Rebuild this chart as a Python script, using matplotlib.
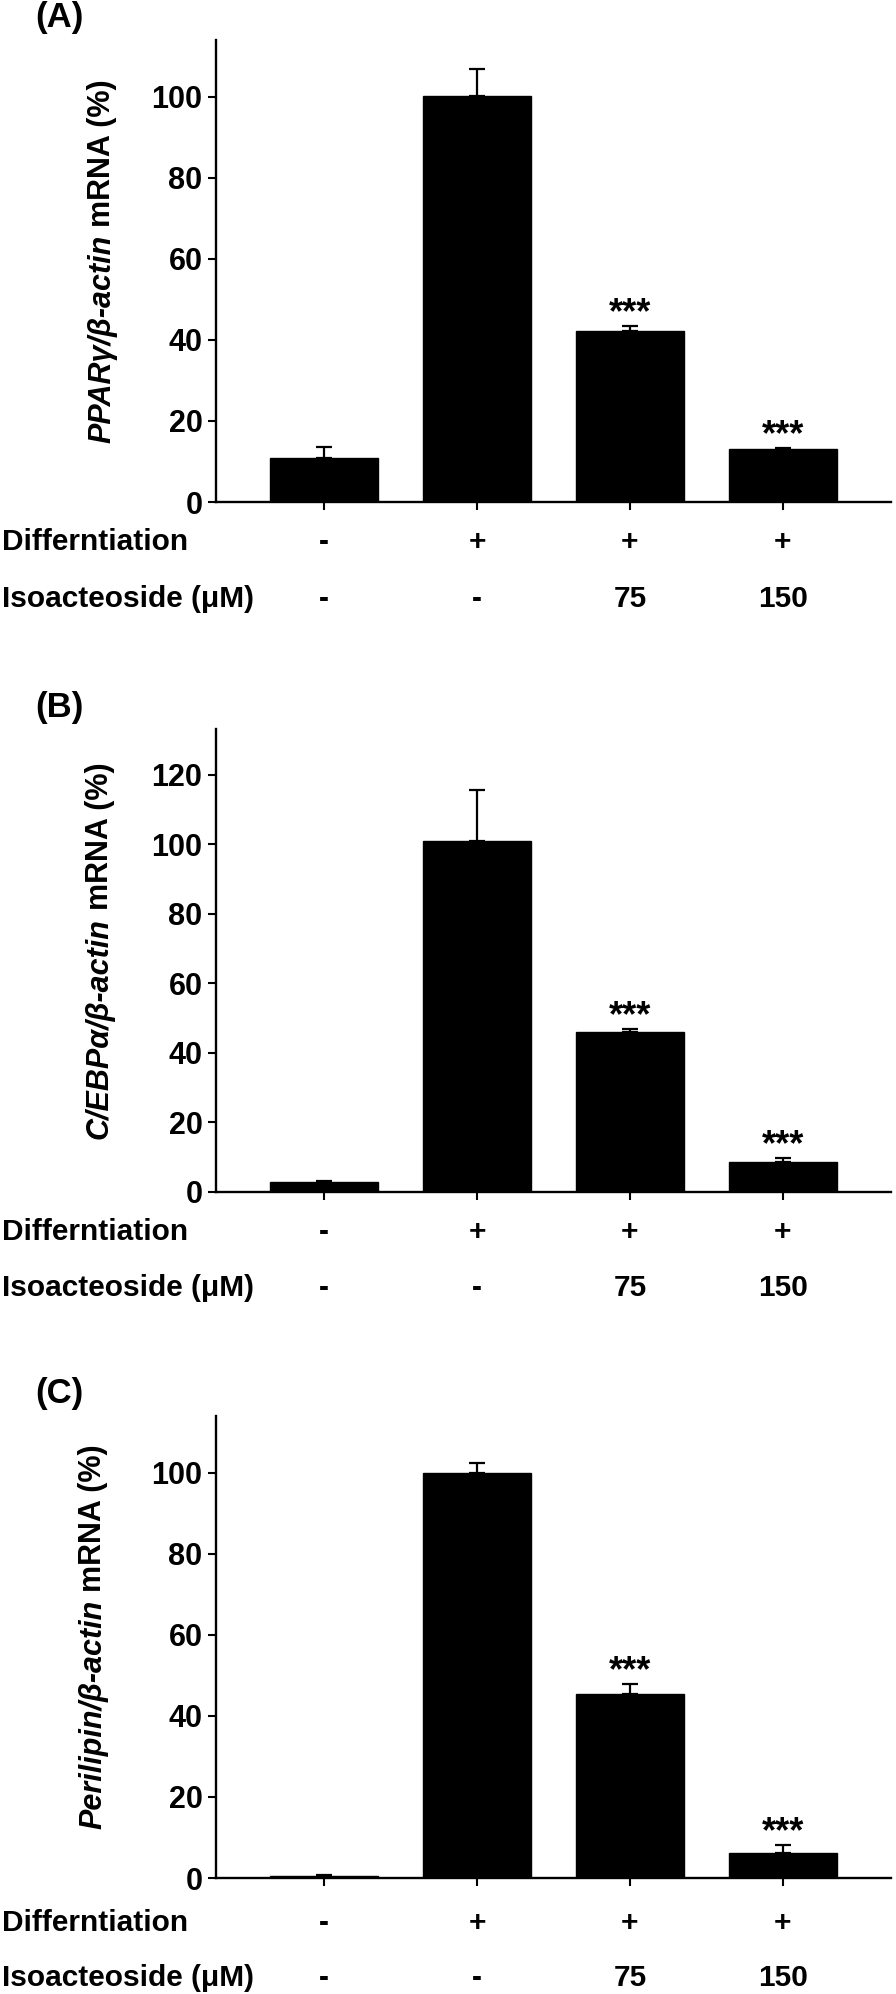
import numpy as np
import matplotlib.pyplot as plt

plt.rcParams['font.family'] = ['Liberation Sans', 'DejaVu Sans']
plt.rcParams['font.weight'] = 'bold'

# ---- data ----
differentiation = ['-', '+', '+', '+']
isoacteoside = ['-', '-', '75', '150']
row_names = ['Differntiation', 'Isoacteoside (\u03bcM)']

ppar_mean = [10.9, 100.2, 42.3, 13.1]
ppar_err = [2.6, 6.6, 1.1, 0.3]
cebpa_mean = [2.7, 101.0, 46.0, 8.5]
cebpa_err = [0.4, 14.5, 0.7, 1.1]
peri_mean = [0.5, 100.0, 45.4, 6.2]
peri_err = [0.2, 2.3, 2.4, 1.9]

sig = ['', '', '***', '***']
panel_tags = ['(A)', '(B)', '(C)']
gene_names = ['PPAR\u03b3/\u03b2-actin', 'C/EBP\u03b1/\u03b2-actin', 'Perilipin/\u03b2-actin']
y_max = [114, 133, 114]
y_tick_max = [100, 120, 100]

means = [ppar_mean, cebpa_mean, peri_mean]
errs = [ppar_err, cebpa_err, peri_err]

# ---- layout (pixels, figure is 896 x 1994 at dpi 100) ----
W, H = 896, 1994
ax_left, ax_right = 216, 891
ax_bottoms = [502, 1191.5, 1878]
ax_h = 462
row_offsets = [(48, 105), (48.5, 104.5), (53, 108)]
ylabel_x = [102, 100, 93]

fig = plt.figure(figsize=(W / 100, H / 100), dpi=100)
x = np.arange(len(differentiation))
axes = []

for k in range(3):
    b = ax_bottoms[k]
    ax = fig.add_axes([ax_left / W, 1 - b / H, (ax_right - ax_left) / W, ax_h / H])
    axes.append(ax)

    ax.bar(x, means[k], width=0.7, color='black', edgecolor='black', zorder=2)
    ax.errorbar(x, means[k], yerr=[np.zeros(4), errs[k]], fmt='none', ecolor='black',
                elinewidth=1.6, capsize=5.8, capthick=1.6, zorder=1)

    for i in range(4):
        if sig[i]:
            ax.annotate(sig[i], xy=(x[i], means[k][i] + errs[k][i]), xytext=(0, 2),
                        textcoords='offset points', ha='center', va='baseline',
                        fontsize=26, fontweight='bold')

    ax.set_xlim(-0.706, 3.706)
    ax.set_ylim(0, y_max[k])
    ax.set_yticks(np.arange(0, y_tick_max[k] + 1, 20))
    ax.set_xticks(x)
    ax.set_xticklabels([])
    for s in ['top', 'right']:
        ax.spines[s].set_visible(False)
    for s in ['left', 'bottom']:
        ax.spines[s].set_linewidth(1.7)
    ax.tick_params(axis='both', direction='out', length=5.8, width=1.5)
    ax.tick_params(axis='y', labelsize=22, pad=4)
    for lab in ax.get_yticklabels():
        lab.set_fontweight('bold')

    # condition rows under the axis
    for r, vals in enumerate([differentiation, isoacteoside]):
        off = -row_offsets[k][r] * 0.72
        ax.annotate(row_names[r], xy=(2, 0), xycoords=('figure pixels', 'axes fraction'),
                    xytext=(0, off), textcoords='offset points', ha='left', va='baseline',
                    fontsize=21.5, fontweight='bold', annotation_clip=False)
        for i in range(4):
            ax.annotate(vals[i], xy=(x[i], 0), xycoords=('data', 'axes fraction'),
                        xytext=(0, off), textcoords='offset points', ha='center',
                        va='baseline', fontsize=21.5, fontweight='bold', annotation_clip=False)

    # panel tag
    fig.text(35 / W, 1 - (b - ax_h - 22) / H, panel_tags[k], ha='left', va='center',
             fontsize=25, fontweight='bold')

# mixed-style y labels (italic gene name + upright "mRNA (%)")
fig.canvas.draw()
renderer = fig.canvas.get_renderer()
for k, ax in enumerate(axes):
    kw = dict(rotation=90, rotation_mode='anchor', ha='left', va='center',
              fontsize=22, fontweight='bold')
    t1 = fig.text(0, 0, gene_names[k], style='italic', **kw)
    t2 = fig.text(0, 0, 'mRNA (%)', **kw)
    h1 = t1.get_window_extent(renderer).height
    h2 = t2.get_window_extent(renderer).height
    gap = 8
    yc = H - (ax_bottoms[k] - ax_h / 2) + 10
    y0 = yc - (h1 + gap + h2) / 2
    t1.set_position((ylabel_x[k] / W, y0 / H))
    t2.set_position((ylabel_x[k] / W, (y0 + h1 + gap) / H))

fig.savefig('out.png', dpi=100)
